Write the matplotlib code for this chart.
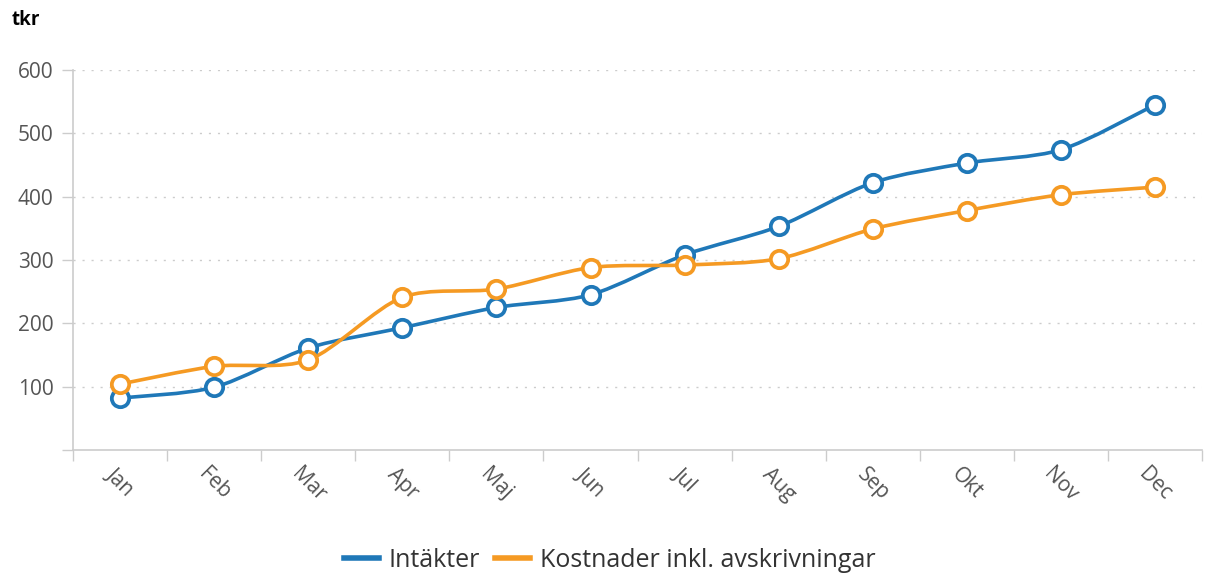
import numpy as np
import matplotlib.pyplot as plt
from matplotlib.path import Path
from matplotlib.patches import PathPatch
from matplotlib.lines import Line2D

plt.rcParams['font.family'] = ['Open Sans', 'DejaVu Sans']

months = ['Jan', 'Feb', 'Mar', 'Apr', 'Maj', 'Jun', 'Jul', 'Aug', 'Sep', 'Okt', 'Nov', 'Dec']
intakter = [82, 99, 161, 193, 225, 245, 308, 353, 422, 453, 474, 545]
kostnader = [104, 132, 142, 241, 254, 288, 292, 302, 349, 378, 403, 415]
series_names = ['Intäkter', 'Kostnader inkl. avskrivningar']
colors = ['#1f78b8', '#f59a23']


def spline_path(x, y, k=0.85):
    # catmull-rom style bezier through the points
    pts = np.column_stack([x, y]).astype(float)
    n = len(pts)
    verts = [pts[0]]
    codes = [Path.MOVETO]
    for i in range(n - 1):
        p0 = pts[max(i - 1, 0)]
        p1 = pts[i]
        p2 = pts[i + 1]
        p3 = pts[min(i + 2, n - 1)]
        c1 = p1 + (p2 - p0) / 6 * k
        c2 = p2 - (p3 - p1) / 6 * k
        verts += [c1, c2, p2]
        codes += [Path.CURVE4] * 3
    return Path(verts, codes)


fig = plt.figure(figsize=(12.05, 5.78), dpi=100)
ax = fig.add_axes([0.0606, 0.2215, 0.937, 0.6575])

x = np.arange(len(months))
for vals, col in zip([intakter, kostnader], colors):
    ax.add_patch(PathPatch(spline_path(x, vals), fill=False, edgecolor=col,
                           lw=2.6, capstyle='round', joinstyle='round', zorder=3))
    ax.plot(x, vals, ls='none', marker='o', ms=12.5, mfc='white', mec=col,
            mew=2.7, zorder=4)

ax.set_xlim(-0.5, len(months) - 0.5)
ax.set_ylim(0, 600)

ax.set_yticks(np.arange(0, 601, 100))
ax.set_yticklabels([''] + [str(v) for v in range(100, 601, 100)])
ax.set_xticks(x)
ax.set_xticklabels(months, rotation=-45, ha='center', va='top')
ax.set_xticks(np.arange(-0.5, len(months), 1), minor=True)

ax.tick_params(axis='x', which='major', length=0, pad=10, labelsize=15, labelcolor='#555555')
ax.tick_params(axis='x', which='minor', length=8, width=1, color='#cccccc')
ax.tick_params(axis='y', length=8, width=1, color='#cccccc', pad=6,
               labelsize=15, labelcolor='#555555')

for yv in range(100, 601, 100):
    ax.axhline(yv, color='#cccccc', lw=1, ls=(0, (1.5, 5)), zorder=1)

for s in ['top', 'right']:
    ax.spines[s].set_visible(False)
for s in ['left', 'bottom']:
    ax.spines[s].set_color('#cccccc')
    ax.spines[s].set_linewidth(1.2)

fig.text(0.01, 0.965, 'tkr', fontsize=13.5, fontweight='bold', va='center', ha='left')

handles = [Line2D([0], [0], color=c, lw=4) for c in colors]
fig.legend(handles, series_names, loc='center', bbox_to_anchor=(0.506, 0.03),
           ncol=2, frameon=False, fontsize=18, handlelength=1.4, handletextpad=0.4,
           columnspacing=0.6, labelcolor='#333333')

fig.savefig('out.png', dpi=100)
